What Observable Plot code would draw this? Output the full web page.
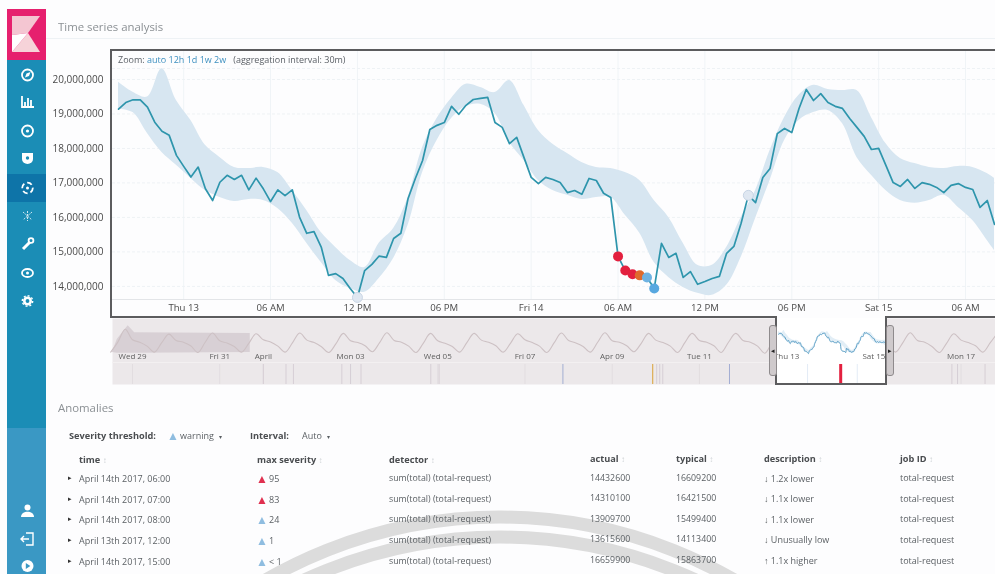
<!DOCTYPE html>
<html><head><meta charset="utf-8">
<script src="https://cdn.jsdelivr.net/npm/d3@7"></script>
<script src="https://cdn.jsdelivr.net/npm/@observablehq/plot@0.6"></script>
<style>
html,body{margin:0;padding:0;background:#fdfdfe;width:995px;height:574px;overflow:hidden}
body{position:relative;font-family:"Open Sans",sans-serif;color:#555;filter:blur(.35px)}
.a{position:absolute;white-space:nowrap}
.plot{position:absolute;left:0}
.plot svg{display:block;background:transparent!important}
.side{position:absolute;left:7px;width:39px}
.tb{font-size:9px;color:#5a5f63}
.th{font-size:9.2px;font-weight:700;color:#4a4d50}
.srt{color:#cfd3d6;font-weight:400;font-size:8px}
.ln{position:absolute;background:#5c5c5e}
.hd{position:absolute;width:6px;top:325px;height:49px;background:#cfcacc;border:1px solid #8f8b8d;border-radius:3px}
.hd b{position:absolute;left:1px;top:20px;font-size:7px;color:#222;font-weight:400}
</style></head><body>
<script>
// ---------- Main series (half-hourly from Apr 12 19:30 UTC), millions of requests
const seriesActual = [19.14,19.33,19.41,19.41,19.20,18.76,18.50,18.38,17.80,17.48,17.17,17.46,16.83,16.49,17.02,17.22,17.10,17.22,16.80,17.14,16.83,16.46,16.80,16.63,16.80,16.01,15.54,15.59,15.14,14.32,14.37,14.23,13.94,13.68,14.46,14.64,14.88,14.84,15.39,15.54,16.55,17.13,17.65,18.55,18.67,18.75,19.22,18.99,19.25,19.42,19.45,19.48,18.75,18.61,18.14,18.32,17.74,17.16,16.98,17.16,17.10,17.01,16.72,16.78,16.67,17.13,17.07,16.70,16.58,14.87,14.46,14.35,14.32,14.26,13.94,15.25,14.84,14.96,14.26,14.43,14.06,14.14,14.23,14.29,14.96,15.16,15.83,16.64,16.43,17.16,17.42,18.43,18.58,18.46,19.16,19.71,19.39,19.59,19.33,19.22,19.16,18.87,18.61,18.35,17.97,18.00,17.51,17.01,16.90,17.10,16.84,17.01,16.96,16.87,16.72,16.93,16.98,16.87,16.81,16.29,16.49,15.80];
const bandSlots = [0,2,4,6,8,10,12,14,16,18,20,22,24,26,28,30,32,34,36,38,40,42,44,46,48,50,52,54,56,58,60,62,64,66,68,70,72,74,76,78,80,82,84,86,88,90,92,94,96,98,100,102,104,106,108,110,112,114,116,118,120,121];
const bandUpper = [19.92,19.63,19.49,20.31,19.39,18.81,18.09,17.74,17.45,17.42,17.45,17.30,16.78,16.20,15.56,15.13,14.75,14.55,15.25,15.68,16.58,18.03,18.87,19.45,19.86,19.77,19.62,19.97,19.25,18.52,18.12,17.85,17.59,17.45,17.42,17.30,17.07,16.49,16.00,15.25,14.61,14.61,15.13,16.00,16.78,17.94,18.90,19.54,19.83,19.71,19.68,19.68,18.90,18.14,17.71,17.56,17.45,17.42,17.48,17.45,17.27,17.13];
const bandLower = [19.14,19.04,18.43,17.88,17.51,17.13,16.78,16.58,16.46,16.52,16.49,16.26,15.83,15.25,14.69,14.17,13.94,13.83,14.23,14.81,15.77,17.30,18.23,18.87,19.22,19.28,19.01,18.17,17.65,17.07,16.78,16.64,16.52,16.58,16.58,16.06,15.54,14.69,14.26,13.97,13.80,13.74,14.03,14.84,15.97,17.07,18.23,18.81,19.04,19.10,18.72,17.74,17.22,16.78,16.49,16.41,16.49,16.64,16.29,15.91,15.33,15.04];
const anomalySlots = [33,87,69,70,71,72,73,74];
const anomalySeverity = ["low","low","critical","critical","critical","major","warning","warning2"];
const yTickValues = [14,15,16,17,18,19,20];
const mainTickSlots = [9,21,33,45,57,69,81,93,105,117];
const mainTickLabels = ["Thu 13","06 AM","12 PM","06 PM","Fri 14","06 AM","12 PM","06 PM","Sat 15","06 AM"];
// ---------- Context series: four-hourly rows, one row per day, from Mar 28
const contextDayRows = [
 [null,null,null,14.1,17.0,20.6],
 [17.6,16.9,15.8,14.1,16.7,19.2],
 [17.4,16.9,15.9,14.0,16.9,19.5],
 [17.3,16.7,15.7,14.1,16.6,19.3],
 [17.6,17.0,15.8,14.1,16.7,19.5],
 [17.5,16.8,15.6,14.0,16.5,19.4],
 [17.3,16.8,15.9,14.2,16.8,19.6],
 [17.4,16.9,15.8,14.0,16.6,19.4],
 [17.3,16.6,15.7,14.1,16.8,19.4],
 [17.5,16.9,15.9,14.1,16.6,19.3],
 [17.6,16.8,15.8,14.0,16.7,19.5],
 [17.4,16.7,15.7,14.1,16.9,19.6],
 [17.3,16.9,15.9,14.2,16.6,19.4],
 [17.5,16.8,15.8,14.0,16.8,19.4],
 [17.4,16.9,15.9,14.0,16.9,19.4],
 [17.4,16.9,15.8,13.8,16.9,19.5],
 [17.2,16.9,15.2,14.1,17.1,19.6],
 [17.2,16.9,16.0,14.1,16.9,19.4],
 [17.3,16.8,15.8,14.1,16.8,19.6],
 [17.4,16.9,15.7,14.0,16.6,19.3],
 [17.5,16.8,15.9,14.1,16.7,19.5]
];
const contextShadeDays = [-0.46,-0.35,-0.10,0.05,2.70];
const contextShadeTop = [14.0,17.7,21.6,19.6,19.4];
const contextShadeBottom = [14.0,13.8,13.8,13.8,14.0];
const contextTickDays = [0,2,3,5,7,9,11,13,15,17,19];
const contextTickLabels = ["Wed 29","Fri 31","April","Mon 03","Wed 05","Fri 07","Apr 09","Tue 11","Thu 13","Sat 15","Mon 17"];
const swimDays = [3.0,3.52,3.69,4.80,5.00,5.24,6.84,7.03,9.87,11.93,12.02,12.09,12.16,13.69,15.48,16.24,16.62,18.79,18.92,19.55];
const swimSeverity = ["low","low","low","low","low","low","low","low","warning","major","low","low","low","warning","lowest","critical","lowest","low","low","low"];
// ---------- Table
const rowTimes = ["April 14th 2017, 06:00","April 14th 2017, 07:00","April 14th 2017, 08:00","April 13th 2017, 12:00","April 14th 2017, 15:00"];
const rowSeverity = ["95","83","24","1","< 1"];
const rowActual = ["14432600","14310100","13909700","13615600","16659900"];
const rowTypical = ["16609200","16421500","15499400","14113400","15863700"];
const rowDesc = ["↓ 1.2x lower","↓ 1.1x lower","↓ 1.1x lower","↓ Unusually low","↑ 1.1x higher"];
const rowDetector = "sum(total) (total-request)";
const rowJob = "total-request";

const t0 = Date.UTC(2017,3,12,19,30);
const slot = i => new Date(t0 + i*18e5);
const M = v => v*1e6;
const line = seriesActual.map((v,i)=>({t:slot(i),v:M(v)}));
const band = bandSlots.map((s,i)=>({t:slot(s),u:M(bandUpper[i]),l:M(bandLower[i])}));
const anoms = anomalySlots.map((s,i)=>({t:slot(s),v:M(seriesActual[s]),s:anomalySeverity[i]}));
const sevScale = {domain:["critical","major","warning","warning2","low"],range:["#e3203f","#df6a2c","#6fb3e2","#58a8e0","#dfe7f1"]};
const ticksMain = mainTickSlots.map(slot);
const labelOf = (arr,labels)=>d=>labels[arr.findIndex(a=>+a===+d)];

const main = Plot.plot({
  width:995,height:320,marginLeft:112,marginRight:0,marginTop:50,marginBottom:21,
  style:{background:"transparent",fontFamily:'"Open Sans",sans-serif',fontSize:"9.6px",color:"#4a4a4a"},
  x:{type:"utc",domain:[new Date(t0-25*6e4),new Date(t0+60.57*36e5)]},
  y:{domain:[M(13.62),M(20.84)]},
  color:sevScale,
  marks:[
    Plot.gridX(ticksMain,{stroke:"#f0f4f7",strokeOpacity:1}),
    Plot.gridY(yTickValues.map(M),{stroke:"#eef2f5",strokeOpacity:1,strokeDasharray:"3,2"}),
    Plot.ruleY([M(13.62)],{stroke:"#e3e5e8"}),
    Plot.areaY(band,{x:"t",y1:"l",y2:"u",fill:"#d7e6f1",curve:"catmull-rom"}),
    Plot.lineY(line,{x:"t",y:"v",stroke:"#2e95ac",strokeWidth:1.7}),
    Plot.dot(anoms,{x:"t",y:"v",fill:"s",r:5,stroke:d=>d.s==="low"?"#c4d1e2":"none",strokeWidth:.9}),
    Plot.axisY(yTickValues.map(M),{tickSize:0,tickPadding:9,tickFormat:d3.format(","),label:null,fontSize:10}),
    Plot.axisX(ticksMain,{tickSize:0,tickPadding:5,tickFormat:labelOf(ticksMain,mainTickLabels),label:null,fontSize:9.6})
  ]
});
main.classList.add("plot");main.style.top="0px";

// context chart
const day0 = Date.UTC(2017,2,29);
const dayAt = d => new Date(day0 + d*864e5);
const ctx=[];
contextDayRows.forEach((row,r)=>row.forEach((v,h)=>{ if(v!=null) ctx.push({t:dayAt(r-1+h/6),v:M(v)}); }));
const shade = contextShadeDays.map((d,i)=>({t:dayAt(d),u:M(contextShadeTop[i]),l:M(contextShadeBottom[i])}));
const ctxTicks = contextTickDays.map(dayAt);
const swim = swimDays.map((d,i)=>({t:dayAt(d),s:swimSeverity[i]}));
const ydom=[M(4.92),M(23.63)];
const win = [{a:slot(-1.9),b:new Date(t0+59.45*36e5)}];
const context = Plot.plot({
  width:995,height:70,marginLeft:112,marginRight:0,marginTop:2,marginBottom:2,
  style:{background:"transparent",fontFamily:'"Open Sans",sans-serif',fontSize:"8px",color:"#5a5a5a"},
  x:{type:"utc",domain:[dayAt(-0.459),dayAt(19.79)],axis:null},
  y:{domain:ydom,axis:null},
  color:{domain:["critical","major","warning","low","lowest"],range:["#e3203f","#d9a035","#a3aed3","#d6ced5","#e3ecf6"]},
  marks:[
    Plot.frame({fill:"#ece8ea",stroke:"none"}),
    Plot.gridX(contextTickDays.map(dayAt),{stroke:"#e2dde0",strokeOpacity:1,insetTop:46}),
    Plot.areaY(shade,{x:"t",y1:"l",y2:"u",fill:"#d8d0d5"}),
    Plot.lineY(ctx,{x:"t",y:"v",stroke:"#cdc1c4",strokeWidth:1.1,curve:"catmull-rom"}),
    Plot.rectY(win,{x1:"a",x2:"b",y1:ydom[0],y2:ydom[1],fill:"#fff"}),
    Plot.ruleX(swim,{x:"t",stroke:"s",strokeWidth:d=>d.s==="critical"?3:1,insetTop:46}),
    Plot.areaY(band,{x:"t",y1:"l",y2:"u",fill:"#e2eef6"}),
    Plot.lineY(line,{x:"t",y:"v",stroke:"#5a9fc6",strokeWidth:1,curve:"catmull-rom"}),
    Plot.text(ctxTicks,{x:d=>d,frameAnchor:"top",dy:38,text:labelOf(ctxTicks,contextTickLabels),lineAnchor:"middle",fontSize:8,fill:"#5f5f5f"})
  ]
});
context.classList.add("plot");context.style.top="316px";

const add=(html)=>{const d=document.createElement("div");d.innerHTML=html;while(d.firstChild)document.body.appendChild(d.firstChild);};
add(`<svg class="a" style="left:0;top:0" width="995" height="574"><g fill="none" stroke="#dcdcdc" stroke-width="13"><ellipse cx="500" cy="990" rx="470" ry="473"/><ellipse cx="500" cy="1010" rx="470" ry="473"/></g></svg>`);
document.body.appendChild(main);
document.body.appendChild(context);

add(`<div class="a" style="left:46px;top:38px;width:949px;height:1px;background:#eef2f5"></div>
<div class="a" style="left:112px;top:68px;width:883px;border-top:1px dashed #eef2f5"></div>
<div class="ln" style="left:110px;top:49px;width:885px;height:2px"></div>
<div class="ln" style="left:110px;top:49px;width:2px;height:268px"></div>
<div class="ln" style="left:110px;top:316px;width:667px;height:2px"></div>
<div class="ln" style="left:885px;top:316px;width:110px;height:2px"></div>
<div class="ln" style="left:775px;top:316px;width:2px;height:68px"></div>
<div class="ln" style="left:885px;top:316px;width:2px;height:68px"></div>
<div class="ln" style="left:775px;top:383px;width:112px;height:2px"></div>
<div class="a" style="left:112px;top:362px;width:663px;height:1px;background:#f3f0f1"></div>
<div class="a" style="left:887px;top:362px;width:108px;height:1px;background:#f3f0f1"></div>
<div class="hd" style="left:769px"><b>◂</b></div>
<div class="hd" style="left:886px"><b>▸</b></div>`);

add(`<div class="a" style="left:58px;top:19px;font-size:11.4px;color:#8b9094">Time series analysis</div>
<div class="a" style="left:118px;top:53px;font-size:9px;color:#5b6066">Zoom: <span style="color:#3c8fbf">auto 12h 1d 1w 2w</span> &nbsp;&nbsp;(aggregation interval: 30m)</div>
<div class="a" style="left:58px;top:400px;font-size:11.4px;color:#8b9094">Anomalies</div>
<div class="a th" style="left:69px;top:429px">Severity threshold:</div>
<div class="a" style="left:167px;top:427px;font-size:12px;color:#8fbde0">▲</div>
<div class="a tb" style="left:180px;top:429px">warning &nbsp;<span style="font-size:6px">▾</span></div>
<div class="a th" style="left:250px;top:429px">Interval:</div>
<div class="a tb" style="left:302px;top:429px">Auto &nbsp;<span style="font-size:6px">▾</span></div>`);
const heads=[["time",79,452.5],["max severity",257,452.5],["detector",389,452.5],["actual",590,452],["typical",676,452],["description",764,452],["job ID",900,451.5]];
heads.forEach(([t,x,y])=>add(`<div class="a th" style="left:${x}px;top:${y}px">${t} <span class="srt">↕</span></div>`));
const rowY=[472,492.5,513,533.5,554.5];
rowTimes.forEach((t,i)=>{
  const y=rowY[i], c=i<2?"#e0304f":"#8fbde0";
  add(`<div class="a" style="left:68px;top:${y+1}px;font-size:6.5px;color:#333">▸</div>
  <div class="a tb" style="left:79px;top:${y}px">${t}</div>
  <div class="a" style="left:256px;top:${y-2}px;font-size:12px;color:${c}">▲</div>
  <div class="a tb" style="left:269px;top:${y}px">${rowSeverity[i].replace("<","&lt;")}</div>
  <div class="a tb" style="left:389px;top:${y}px;font-size:8.8px">${rowDetector}</div>
  <div class="a tb" style="left:590px;top:${y-.5}px;font-size:8.8px">${rowActual[i]}</div>
  <div class="a tb" style="left:676px;top:${y-.5}px;font-size:8.8px">${rowTypical[i]}</div>
  <div class="a tb" style="left:764px;top:${y-.5}px">${rowDesc[i]}</div>
  <div class="a tb" style="left:900px;top:${y-1}px">${rowJob}</div>`);
});

add(`<div class="side" style="top:60px;height:368px;background:#1b8db6"></div>
<div class="side" style="top:174px;height:28px;background:#0e74a8"></div>
<div class="side" style="top:428px;height:146px;background:#3a98c4"></div>
<svg class="a" style="left:7px;top:9px" width="39" height="51"><rect width="39" height="51" fill="#e6206e"/><polygon points="5,7 33,7 21,24 5,26" fill="#f4c6d2"/><polygon points="5,43 21,24 33,43" fill="#f6d3d9"/><polygon points="5,26 21,24 5,43" fill="#fff"/></svg>`);
const ico=(y,inner)=>add(`<svg class="a" style="left:17px;top:${y-10}px" width="21" height="20" viewBox="0 0 21 20" fill="none" stroke="#fff" stroke-width="1.8">${inner}</svg>`);
ico(75,'<circle cx="10.5" cy="10" r="5.5"/><path d="M8 12.5l1.5-4 4-1.5-1.5 4z" fill="#fff" stroke="none"/>');
ico(102,'<path d="M5 4v11h12M8 15v-5M11 15V6M14 15v-7" />');
ico(131,'<circle cx="10.5" cy="10" r="5.5"/><circle cx="10.5" cy="10" r="1.6" fill="#fff" stroke="none"/>');
ico(158,'<path d="M5 5h11v6a5.5 5 0 0 1-11 0z" fill="#fff" stroke="none"/><circle cx="10.5" cy="10" r="1.7" fill="#1b8db6" stroke="none"/>');
ico(188,'<circle cx="10.5" cy="10" r="5.3" stroke-dasharray="5,3"/><circle cx="10.5" cy="10" r="1.5" fill="#fff" stroke="none"/>');
ico(216,'<path d="M6 6l9 8M15 6l-9 8M10.5 5v10" stroke-width="1" stroke="#cfe6f0" stroke-dasharray="2,1"/>');
ico(244,'<path d="M6 15l7-7" stroke-width="3"/><circle cx="14" cy="6.5" r="2.4" stroke-width="1.8"/>');
ico(273,'<ellipse cx="10.5" cy="10" rx="5.5" ry="4"/><circle cx="10.5" cy="10" r="1.5" fill="#fff" stroke="none"/>');
ico(301,'<circle cx="10.5" cy="10" r="3.2" stroke-width="2.6"/><circle cx="10.5" cy="10" r="5.2" stroke-width="1.4" stroke-dasharray="2,2"/>');
ico(511,'<circle cx="10.5" cy="6.5" r="3" fill="#fff" stroke="none"/><path d="M4 16c0-7 13-7 13 0z" fill="#fff" stroke="none"/>');
ico(539,'<path d="M9 4h7v12H9M4 10h8M7 7l-3 3 3 3" stroke-width="1.4"/>');
ico(566,'<circle cx="10.5" cy="10" r="6" fill="#fff" stroke="none"/><path d="M8.8 7l4.5 3-4.5 3z" fill="#3a98c4" stroke="none"/>');
</script>
</body></html>
